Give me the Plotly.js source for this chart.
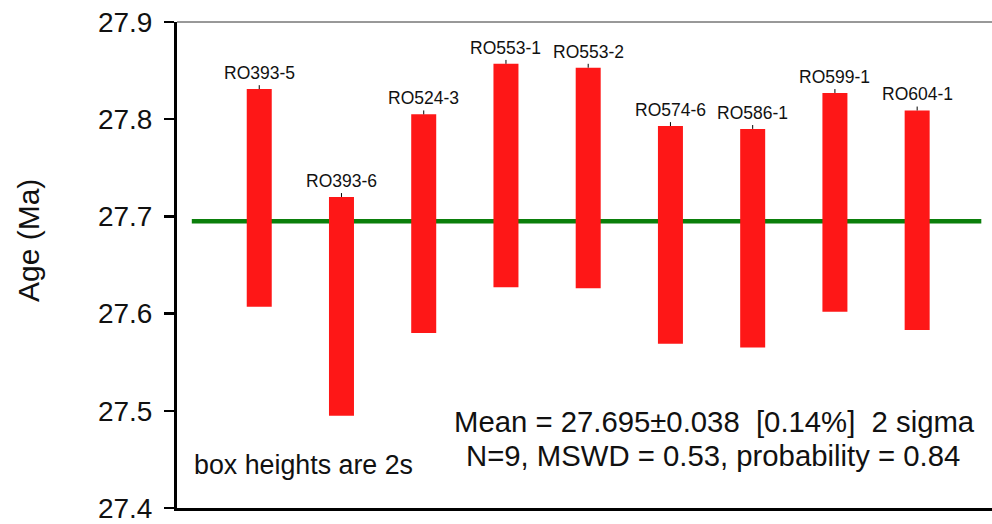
<!DOCTYPE html>
<html>
<head>
<meta charset="utf-8">
<script src="https://cdn.plot.ly/plotly-3.0.1.min.js"></script>
<style>html,body{margin:0;padding:0;background:#fff;}#chart{width:992px;height:524px;}</style>
</head>
<body>
<div id="chart"></div>
<script>
// Sample names (categories)
var samples = ['RO393-5','RO393-6','RO524-3','RO553-1','RO553-2','RO574-6','RO586-1','RO599-1','RO604-1'];
// Box lower and upper ends (age, Ma; box height = 2s)
var lows  = [27.607, 27.495, 27.580, 27.627, 27.626, 27.569, 27.565, 27.602, 27.583];
var highs = [27.831, 27.720, 27.805, 27.857, 27.853, 27.793, 27.790, 27.827, 27.809];
// Weighted mean
var meanAge = 27.695;
// Y-axis ticks
var yTicks = [27.4, 27.5, 27.6, 27.7, 27.8, 27.9];
var yTickText = ['27.4','27.5','27.6','27.7','27.8','27.9'];
var statLine1 = 'Mean = 27.695\u00b10.038\u00a0\u00a0[0.14%]\u00a0\u00a02 sigma';
var statLine2 = 'N=9, MSWD = 0.53, probability = 0.84';
var noteText = 'box heights are 2s';

var xs = samples.map(function(_, i){ return i + 1; });
var heights = highs.map(function(h, i){ return h - lows[i]; });

var FONT = 'Liberation Sans, Arial, sans-serif';

var barTrace = {
  type: 'bar',
  x: xs,
  y: heights,
  base: lows,
  width: 0.304,
  marker: {color: '#fe1717', line: {width: 0}},
  error_y: {type: 'data', symmetric: false, array: xs.map(function(){return 0.004;}), arrayminus: xs.map(function(){return 0;}), width: 0, thickness: 1, color: '#000'},
  hoverinfo: 'skip',
  showlegend: false
};

var annotations = samples.map(function(s, i){
  return {x: xs[i], y: highs[i], xref: 'x', yref: 'y', text: s, showarrow: false,
    xanchor: 'center', yanchor: 'bottom', yshift: 4,
    font: {family: FONT, size: 17.5, color: '#111'}};
});
annotations.push({xref: 'paper', yref: 'paper', x: -0.183, y: 0.551, text: 'Age (Ma)', textangle: -90,
  showarrow: false, xanchor: 'center', yanchor: 'middle', font: {family: FONT, size: 30, color: '#111'}});
annotations.push({xref: 'paper', yref: 'paper', x: 0.659, y: 0.177, text: statLine1, showarrow: false,
  xanchor: 'center', yanchor: 'middle', font: {family: FONT, size: 29.3, color: '#111'}});
annotations.push({xref: 'paper', yref: 'paper', x: 0.658, y: 0.107, text: statLine2, showarrow: false,
  xanchor: 'center', yanchor: 'middle', font: {family: FONT, size: 29.3, color: '#111'}});
annotations.push({xref: 'paper', yref: 'paper', x: 0.019, y: 0.089, text: noteText, showarrow: false,
  xanchor: 'left', yanchor: 'middle', font: {family: FONT, size: 26.8, color: '#111'}});

var layout = {
  width: 992, height: 524,
  margin: {l: 177, r: 0, t: 22, b: 16, pad: 0},
  paper_bgcolor: '#fff', plot_bgcolor: '#fff',
  showlegend: false,
  xaxis: {range: [0, 9.91], showgrid: false, zeroline: false, showticklabels: false, ticks: '',
    showline: true, linecolor: '#000', linewidth: 3, fixedrange: true},
  yaxis: {range: [27.4, 27.9], tickvals: yTicks, ticktext: yTickText, showgrid: false, zeroline: false,
    showline: true, linecolor: '#000', linewidth: 3, ticks: 'outside', ticklen: 10, tickwidth: 2.5, tickcolor: '#000',
    ticklabelstandoff: 6,
    tickfont: {family: FONT, size: 28, color: '#111'}, fixedrange: true},
  shapes: [
    {type: 'line', xref: 'x', yref: 'y', x0: 0.18, x1: 9.78, y0: meanAge, y1: meanAge,
     line: {color: '#0b7f0b', width: 4.5}, layer: 'below'},
    {type: 'line', xref: 'paper', yref: 'paper', x0: 0, x1: 1, y0: 1, y1: 1,
     line: {color: '#333', width: 1}}
  ],
  annotations: annotations
};

Plotly.newPlot('chart', [barTrace], layout, {displayModeBar: false, staticPlot: true});
</script>
</body>
</html>
